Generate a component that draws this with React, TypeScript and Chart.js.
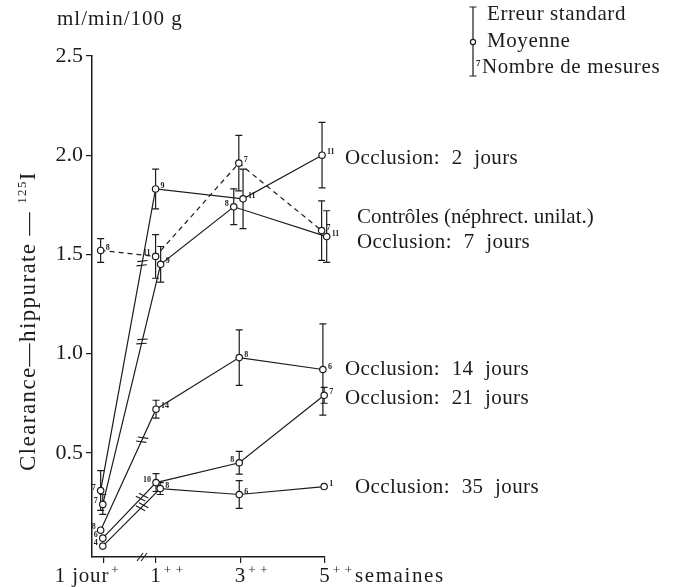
import React, { useEffect, useRef } from "react";
import { Chart, registerables } from "chart.js";

Chart.register(...registerables);

// ---------- data ----------
const timeLabels = ["1 jour", "1", "3", "5"];
const timeSup = ["+", "+ +", "+ +", "+ +"];
// display positions on the broken time axis (weeks; "1 jour" placed before the break)
const timePos = [-0.25, 1, 3, 5];
const yTicks = [0.5, 1.0, 1.5, 2.0, 2.5];

const seriesNames = [
  "Occlusion: 2 jours",
  "Contrôles (néphrect. unilat.)",
  "Occlusion: 7 jours",
  "Occlusion: 14 jours",
  "Occlusion: 21 jours",
  "Occlusion: 35 jours",
];

const occl2Mean = [0.31, 1.83, 1.78, 2.0];
const occl2SE = [0.1, 0.1, 0.15, 0.165];
const occl2N = [7, 9, 11, 11];

const ctrlMean = [1.52, 1.49, 1.96, 1.62];
const ctrlSE = [0.06, 0.11, 0.14, 0.15];
const ctrlN = [8, 11, 7, 7];

const occl7Mean = [0.24, 1.45, 1.74, 1.59];
const occl7SE = [0.05, 0.09, 0.09, 0.13];
const occl7N = [7, 9, 8, 11];

const occl14Mean = [0.11, 0.72, 0.98, 0.92];
const occl14SE = [0.0, 0.045, 0.14, 0.23];
const occl14N = [8, 14, 8, 6];

const occl21Mean = [0.07, 0.35, 0.45, 0.79];
const occl21SE = [0.0, 0.045, 0.057, 0.04];
const occl21N = [6, 10, 8, 7];

const occl35Mean = [0.03, 0.32, 0.29, 0.33];
const occl35SE = [0.0, 0.03, 0.07, 0.0];
const occl35N = [4, 8, 6, 1];

// ---------- style ----------
const INK = "#1c1c1c";
const FONT = '"Liberation Serif", "Times New Roman", Times, serif';

const seriesData = [
  { mean: occl2Mean, se: occl2SE, n: occl2N },
  { mean: ctrlMean, se: ctrlSE, n: ctrlN },
  { mean: occl7Mean, se: occl7SE, n: occl7N },
  { mean: occl14Mean, se: occl14SE, n: occl14N },
  { mean: occl21Mean, se: occl21SE, n: occl21N },
  { mean: occl35Mean, se: occl35SE, n: occl35N },
];

// small horizontal dodge of overlapping markers (x units)
const dodge = [
  [-0.06, -0.01, 0.06, -0.07],
  [-0.06, -0.01, -0.04, -0.08],
  [-0.01, 0.11, -0.16, 0.04],
  [-0.06, 0.0, -0.03, -0.05],
  [-0.01, 0.0, -0.03, -0.02],
  [-0.01, 0.1, -0.03, -0.02],
];
const nSide = [
  ["l", "r", "r", "r"],
  ["r", "l", "r", "r"],
  ["l", "r", "l", "r"],
  ["l", "r", "r", "r"],
  ["l", "l", "l", "r"],
  ["l", "r", "r", "r"],
];
const dashed = [false, true, false, false, false, false];
const labelOffset = [
  [20, 3],
  [32, -13],
  [32, 6],
  [20, 0],
  [20, 3],
  [30, 1],
];
const breakAt = 0.67;

function spacing(ctx: CanvasRenderingContext2D, letter: number, word = 0) {
  (ctx as any).letterSpacing = `${letter}px`;
  (ctx as any).wordSpacing = `${word}px`;
}

function drawErrBar(ctx: CanvasRenderingContext2D, x: number, y1: number, y2: number) {
  ctx.beginPath();
  ctx.moveTo(x, y1);
  ctx.lineTo(x, y2);
  ctx.moveTo(x - 3.5, y1);
  ctx.lineTo(x + 3.5, y1);
  ctx.moveTo(x - 3.5, y2);
  ctx.lineTo(x + 3.5, y2);
  ctx.stroke();
}

const overlay = {
  id: "overlay",
  beforeDatasetsDraw(chart: any) {
    const ctx: CanvasRenderingContext2D = chart.ctx;
    const xs = chart.scales.x;
    const ys = chart.scales.y;
    ctx.save();
    ctx.strokeStyle = INK;
    ctx.lineWidth = 1.2;
    seriesData.forEach((s, si) => {
      s.mean.forEach((m, i) => {
        const e = s.se[i];
        if (!e) return;
        const x = xs.getPixelForValue(timePos[i] + dodge[si][i]);
        drawErrBar(ctx, x, ys.getPixelForValue(m + e), ys.getPixelForValue(m - e));
      });
    });
    ctx.restore();
  },
  afterDatasetsDraw(chart: any) {
    const ctx: CanvasRenderingContext2D = chart.ctx;
    const xs = chart.scales.x;
    const ys = chart.scales.y;
    ctx.save();
    ctx.fillStyle = INK;
    ctx.strokeStyle = INK;
    // n labels
    ctx.font = `bold 8px ${FONT}`;
    ctx.textBaseline = "middle";
    seriesData.forEach((s, si) => {
      s.mean.forEach((m, i) => {
        const x = xs.getPixelForValue(timePos[i] + dodge[si][i]);
        const y = ys.getPixelForValue(m);
        if (nSide[si][i] === "l") {
          ctx.textAlign = "right";
          ctx.fillText(String(s.n[i]), x - 5, y - 3);
        } else {
          ctx.textAlign = "left";
          ctx.fillText(String(s.n[i]), x + 5, y - 3);
        }
      });
    });
    // break marks on segments day1 -> week1
    ctx.lineWidth = 1.1;
    const bx = xs.getPixelForValue(breakAt);
    seriesData.forEach((s, si) => {
      if (dashed[si]) return;
      const x0 = xs.getPixelForValue(timePos[0] + dodge[si][0]);
      const y0 = ys.getPixelForValue(s.mean[0]);
      const x1 = xs.getPixelForValue(timePos[1] + dodge[si][1]);
      const y1 = ys.getPixelForValue(s.mean[1]);
      const t = (bx - x0) / (x1 - x0);
      const px = x0 + t * (x1 - x0);
      const py = y0 + t * (y1 - y0);
      const len = Math.hypot(x1 - x0, y1 - y0);
      const dx = (x1 - x0) / len;
      const dy = (y1 - y0) / len;
      const nx = -dy;
      const ny = dx;
      [-2.2, 2.2].forEach((o) => {
        const cx = px + dx * o;
        const cy = py + dy * o;
        ctx.beginPath();
        ctx.moveTo(cx - nx * 5 - dx * 1.5, cy - ny * 5 - dy * 1.5);
        ctx.lineTo(cx + nx * 5 + dx * 1.5, cy + ny * 5 + dy * 1.5);
        ctx.stroke();
      });
    });
    // axis break mark
    const ay = chart.chartArea.bottom;
    [-2, 2].forEach((o) => {
      ctx.beginPath();
      ctx.moveTo(bx + o - 3, ay + 4);
      ctx.lineTo(bx + o + 3, ay - 4);
      ctx.stroke();
    });
    // series labels
    ctx.font = `21px ${FONT}`;
    ctx.textAlign = "left";
    ctx.textBaseline = "middle";
    seriesData.forEach((s, si) => {
      const x = xs.getPixelForValue(timePos[3]) + labelOffset[si][0];
      const y = ys.getPixelForValue(s.mean[3]) + labelOffset[si][1];
      if (dashed[si]) spacing(ctx, 0, 0);
      else spacing(ctx, 0.4, 6);
      ctx.fillText(seriesNames[si], x, y);
    });
    spacing(ctx, 0, 0);
    ctx.restore();
  },
  afterDraw(chart: any) {
    const ctx: CanvasRenderingContext2D = chart.ctx;
    const xs = chart.scales.x;
    const area = chart.chartArea;
    ctx.save();
    ctx.fillStyle = INK;
    ctx.strokeStyle = INK;
    // x tick labels
    const base = area.bottom + 25;
    spacing(ctx, 0.8, 0);
    timeLabels.forEach((lab, i) => {
      const x = xs.getPixelForValue(timePos[i]);
      ctx.font = `21px ${FONT}`;
      ctx.textBaseline = "alphabetic";
      let endX: number;
      if (i === 0) {
        ctx.textAlign = "right";
        ctx.fillText(lab, x + 6, base);
        endX = x + 8;
      } else {
        ctx.textAlign = "center";
        ctx.fillText(lab, x, base);
        endX = x + ctx.measureText(lab).width / 2 + 2;
      }
      ctx.font = `13px ${FONT}`;
      ctx.textAlign = "left";
      ctx.fillText(timeSup[i], endX, base - 8);
      if (i === timeLabels.length - 1) {
        const w = ctx.measureText(timeSup[i]).width;
        ctx.font = `21px ${FONT}`;
        spacing(ctx, 1.6, 0);
        ctx.fillText("semaines", endX + w + 2, base);
      }
    });
    // y unit
    spacing(ctx, 1, 0);
    ctx.font = `21px ${FONT}`;
    ctx.textAlign = "left";
    ctx.textBaseline = "alphabetic";
    ctx.fillText("ml/min/100 g", 57, 25);
    // y axis title (rotated)
    ctx.save();
    ctx.translate(35, 321);
    ctx.rotate(-Math.PI / 2);
    spacing(ctx, 1.4, 0);
    ctx.font = `23px ${FONT}`;
    const main = "Clearance—hippurate — ";
    const supTxt = "125";
    const wMain = ctx.measureText(main).width;
    ctx.font = `13px ${FONT}`;
    const wSup = ctx.measureText(supTxt).width;
    ctx.font = `23px ${FONT}`;
    const wI = ctx.measureText("I").width;
    const total = wMain + wSup + wI;
    let cx = -total / 2;
    ctx.textAlign = "left";
    ctx.fillText(main, cx, 0);
    cx += wMain;
    ctx.font = `13px ${FONT}`;
    ctx.fillText(supTxt, cx, -9);
    cx += wSup;
    ctx.font = `23px ${FONT}`;
    ctx.fillText("I", cx, 0);
    ctx.restore();
    // legend
    spacing(ctx, 0, 0);
    ctx.lineWidth = 1.2;
    const lx = 473;
    drawErrBar(ctx, lx, 7, 76);
    ctx.beginPath();
    ctx.arc(lx, 42, 2.6, 0, Math.PI * 2);
    ctx.fillStyle = "#fff";
    ctx.fill();
    ctx.stroke();
    ctx.fillStyle = INK;
    ctx.font = `bold 9px ${FONT}`;
    ctx.textBaseline = "middle";
    ctx.fillText("7", lx + 3, 64);
    spacing(ctx, 0.6, 0);
    ctx.font = `21px ${FONT}`;
    ctx.fillText("Erreur standard", 487, 14);
    ctx.fillText("Moyenne", 487, 41);
    ctx.fillText("Nombre de mesures", 482, 67);
    spacing(ctx, 0, 0);
    ctx.restore();
  },
};

export default function App() {
  const ref = useRef<HTMLCanvasElement>(null);
  useEffect(() => {
    document.body.style.margin = "0";
    const canvas = ref.current!;
    const chart = new Chart(canvas, {
      type: "line",
      data: {
        datasets: seriesData.map((s, si) => ({
          label: seriesNames[si],
          data: s.mean.map((v, i) => ({ x: timePos[i] + dodge[si][i], y: v })),
          borderColor: INK,
          borderWidth: 1.2,
          borderDash: dashed[si] ? [5, 4] : [],
          pointRadius: 3.2,
          pointBackgroundColor: "#fff",
          pointBorderColor: INK,
          pointBorderWidth: 1.2,
          tension: 0,
          fill: false,
          clip: false as any,
        })),
      },
      options: {
        responsive: false,
        animation: false,
        events: [],
        layout: { padding: { top: 56, right: 371, bottom: 0, left: 0 } },
        plugins: { legend: { display: false }, tooltip: { enabled: false } },
        scales: {
          x: {
            type: "linear",
            min: -0.515,
            max: 5,
            afterBuildTicks: (s: any) => {
              s.ticks = timePos.map((v) => ({ value: v }));
            },
            afterFit: (s: any) => {
              s.height = 30;
            },
            grid: { drawOnChartArea: false, drawTicks: true, tickLength: 6, color: INK, lineWidth: 1.2 },
            border: { display: true, color: INK, width: 1.5 },
            ticks: { display: false },
          },
          y: {
            type: "linear",
            min: -0.025,
            max: 2.5,
            afterBuildTicks: (s: any) => {
              s.ticks = yTicks.map((v) => ({ value: v }));
            },
            afterFit: (s: any) => {
              s.width = 92;
            },
            grid: { drawOnChartArea: false, drawTicks: true, tickLength: 6, color: INK, lineWidth: 1.2 },
            border: { display: true, color: INK, width: 1.5 },
            ticks: {
              font: { family: FONT, size: 22 },
              color: INK,
              padding: 3,
              callback: (v: any) => Number(v).toFixed(1),
            },
          },
        },
      },
      plugins: [overlay],
    });
    return () => chart.destroy();
  }, []);
  return <canvas ref={ref} width={696} height={587} style={{ display: "block", width: 696, height: 587 }} />;
}
